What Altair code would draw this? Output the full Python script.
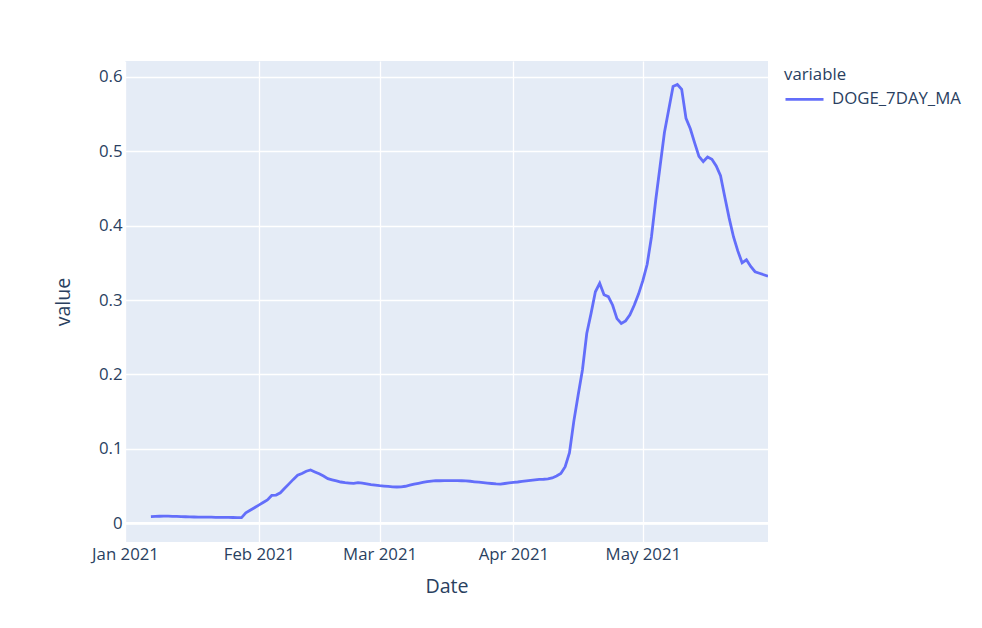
import altair as alt
import pandas as pd

start_date = "2021-01-07"
series_name = "DOGE_7DAY_MA"
values = [
    0.0090, 0.0093, 0.0095, 0.0097, 0.0096, 0.0094, 0.0092, 0.0090, 0.0088, 0.0086,
    0.0085, 0.0084, 0.0083, 0.0082, 0.0082, 0.0081, 0.0080, 0.0080, 0.0079, 0.0078,
    0.0077, 0.0076, 0.0140, 0.0175, 0.0210, 0.0245, 0.0280, 0.0315, 0.0375, 0.0380,
    0.0410, 0.0470, 0.0530, 0.0590, 0.0645, 0.0670, 0.0700, 0.0716, 0.0690, 0.0665,
    0.0635, 0.0600, 0.0585, 0.0570, 0.0555, 0.0546, 0.0541, 0.0537, 0.0546, 0.0540,
    0.0530, 0.0520, 0.0512, 0.0505, 0.0500, 0.0495, 0.0490, 0.0488, 0.0490, 0.0498,
    0.0512, 0.0525, 0.0538, 0.0550, 0.0560, 0.0568, 0.0573, 0.0572, 0.0573, 0.0574,
    0.0574, 0.0573, 0.0572, 0.0570, 0.0565, 0.0558, 0.0552, 0.0546, 0.0540, 0.0535,
    0.0530, 0.0527, 0.0535, 0.0542, 0.0550, 0.0555, 0.0562, 0.0570, 0.0578, 0.0585,
    0.0590, 0.0592, 0.0597, 0.0610, 0.0635, 0.0670, 0.0760, 0.0950, 0.1370, 0.1720,
    0.2060, 0.2550, 0.2820, 0.3110, 0.3225, 0.3070, 0.3045, 0.2930, 0.2750, 0.2685,
    0.2720, 0.2800, 0.2930, 0.3080, 0.3260, 0.3480, 0.3850, 0.4350, 0.4800, 0.5250,
    0.5560, 0.5870, 0.5895, 0.5830, 0.5440, 0.5300, 0.5110, 0.4930, 0.4860, 0.4920,
    0.4890, 0.4800, 0.4670, 0.4380, 0.4100, 0.3850, 0.3660, 0.3500, 0.3540, 0.3450,
    0.3380, 0.3360, 0.3340, 0.3320,
]
dates = [d.strftime("%Y-%m-%d") for d in pd.date_range(start_date, periods=len(values), freq="D")]
y_ticks = [0, 0.1, 0.2, 0.3, 0.4, 0.5, 0.6]
month_ticks = [(2021, 1), (2021, 2), (2021, 3), (2021, 4), (2021, 5)]

df = pd.DataFrame({"Date": dates, "value": values, "variable": series_name})

FONT = "Open Sans"
TXT = "#2a3f5f"
W, H = 643, 481

x_scale = alt.Scale(
    type="utc",
    domain=[alt.DateTime(year=2021, month=1, date=1, utc=True),
            alt.DateTime(year=2021, month=5, date=30, utc=True)],
    nice=False,
)
y_scale = alt.Scale(domain=[-0.0251, 0.6211], nice=False, zero=False)

x_axis = alt.Axis(
    values=[alt.DateTime(year=y, month=m, date=1, utc=True) for y, m in month_ticks],
    format="%b %Y", title="Date", domain=False, ticks=False,
    labelFont=FONT, labelFontSize=16.8, labelColor=TXT, labelPadding=4,
    titleFont=FONT, titleFontSize=19.6, titleColor=TXT, titleFontWeight="normal",
    titleX=W / 2, titleY=44, titleBaseline="middle",
    gridColor="white", gridWidth=1.3, labelFlush=False,
)
y_axis = alt.Axis(
    values=y_ticks, format="~g", title="value", domain=False, ticks=False,
    labelFont=FONT, labelFontSize=16.8, labelColor=TXT, labelPadding=3,
    titleFont=FONT, titleFontSize=19.6, titleColor=TXT, titleFontWeight="normal",
    titleX=-62, titleY=H / 2, titleAngle=-90, titleBaseline="middle", titleAlign="center",
    gridColor="white", gridWidth=1.3,
)

zero = alt.Chart(pd.DataFrame({"z": [0]})).mark_rule(color="white", strokeWidth=2.8).encode(
    y=alt.Y("z:Q", scale=y_scale, axis=y_axis)
)

line = alt.Chart(df).mark_line(strokeWidth=2.8, clip=True).encode(
    x=alt.X("Date:T", scale=x_scale, axis=x_axis),
    y=alt.Y("value:Q", scale=y_scale, axis=y_axis),
    color=alt.Color(
        "variable:N",
        scale=alt.Scale(domain=[series_name], range=["#636EFA"]),
        legend=alt.Legend(
            title="variable", orient="none", legendX=659, legendY=6,
            symbolType="stroke", symbolSize=1444, symbolStrokeWidth=2.8,
            labelFont=FONT, labelFontSize=16.8, labelColor=TXT, labelOffset=7,
            titleFont=FONT, titleFontSize=16.8, titleColor=TXT, titleFontWeight="normal",
            titlePadding=-5, padding=0,
        ),
    ),
)

chart = alt.layer(zero, line).properties(
    width=W, height=H,
    background="white",
    autosize=alt.AutoSizeParams(type="none"),
    padding={"left": 117, "top": 53, "right": 200, "bottom": 70},
).configure_view(fill="#E5ECF6", stroke=None)

chart.save("out.html", embed_options={"renderer": "svg", "actions": False})
